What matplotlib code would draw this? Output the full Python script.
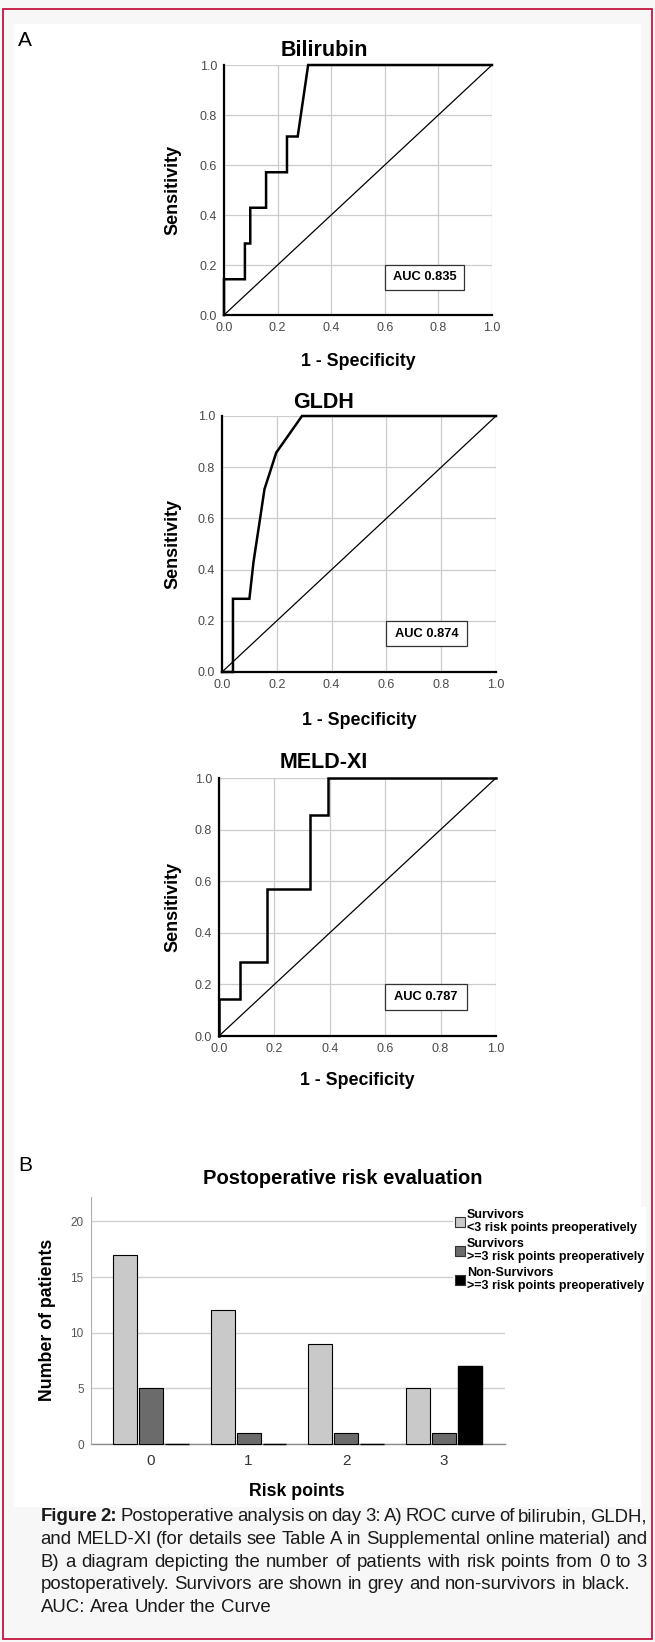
import matplotlib
matplotlib.use("Agg")
import matplotlib.pyplot as plt
from matplotlib.patches import Rectangle

plt.rcParams['font.family'] = ['Liberation Sans', 'DejaVu Sans']

W, H = 655, 1642

# ROC curves (1 - specificity, sensitivity)
bili_fpr = [0, 0, 0.078, 0.078, 0.098, 0.098, 0.157, 0.157, 0.235, 0.235, 0.275, 0.314, 1.0]
bili_tpr = [0, 0.143, 0.143, 0.286, 0.286, 0.429, 0.429, 0.571, 0.571, 0.714, 0.714, 1.0, 1.0]
gldh_fpr = [0, 0.04, 0.04, 0.10, 0.115, 0.135, 0.155, 0.198, 0.292, 1.0]
gldh_tpr = [0, 0, 0.286, 0.286, 0.43, 0.571, 0.714, 0.857, 1.0, 1.0]
meld_fpr = [0, 0, 0.077, 0.077, 0.175, 0.175, 0.33, 0.33, 0.394, 0.394, 1.0]
meld_tpr = [0, 0.143, 0.143, 0.286, 0.286, 0.571, 0.571, 0.857, 0.857, 1.0, 1.0]
auc_labels = ["AUC 0.835", "AUC 0.874", "AUC 0.787"]
roc_titles = ["Bilirubin", "GLDH", "MELD-XI"]

# risk evaluation bars
risk_points = ["0", "1", "2", "3"]
surv_lt3 = [17, 12, 9, 5]
surv_ge3 = [5, 1, 1, 1]
nonsurv_ge3 = [0, 0, 0, 7]
legend_labels = ["Survivors\n<3 risk points preoperatively",
                 "Survivors\n>=3 risk points preoperatively",
                 "Non-Survivors\n>=3 risk points preoperatively"]

caption_lines = [
    ("Figure 2: Postoperative analysis on day 3: A) ROC curve of bilirubin, GLDH,", True),
    ("and MELD-XI (for details see Table A in Supplemental online material) and", True),
    ("B) a diagram depicting the number of patients with risk points from 0 to 3", True),
    ("postoperatively. Survivors are shown in grey and non-survivors in black.", False),
    ("AUC: Area Under the Curve", False),
]


def rect(x0, y0, x1, y1):
    return [x0 / W, 1 - y1 / H, (x1 - x0) / W, (y1 - y0) / H]


def ftext(x, y, s, **kw):
    return fig.text(x / W, 1 - y / H, s, **kw)


fig = plt.figure(figsize=(W / 100, H / 100), dpi=100)
fig.patch.set_facecolor('#f8f7f7')
fig.patches.append(Rectangle((14 / W, 1 - 1507 / H), 627 / W, 1483 / H,
                             transform=fig.transFigure, facecolor='white',
                             edgecolor='none', zorder=-10))
fig.patches.append(Rectangle((2.5 / W, 1 - 1639 / H), 649.5 / W, 1630 / H,
                             transform=fig.transFigure, facecolor='none',
                             edgecolor='#c2163f', lw=1.3, zorder=5))

ftext(25, 40, "A", fontsize=15, ha='center', va='center')
ftext(25, 1165, "B", fontsize=15, ha='center', va='center')

# ---- panel A: ROC curves ----
roc_boxes = [(224, 65, 492, 315), (222, 416, 496, 672), (219, 778, 496, 1036)]
title_y = [51, 403, 762]
xlab_y = [361, 720, 1080]
curves = [(bili_fpr, bili_tpr), (gldh_fpr, gldh_tpr), (meld_fpr, meld_tpr)]

for i in range(3):
    x0, y0, x1, y1 = roc_boxes[i]
    ax = fig.add_axes(rect(x0, y0, x1, y1))
    ax.set_facecolor('none')
    ax.set_xlim(0, 1)
    ax.set_ylim(0, 1)
    ticks = [0, 0.2, 0.4, 0.6, 0.8, 1.0]
    ax.set_xticks(ticks)
    ax.set_yticks(ticks)
    ax.set_xticklabels(["%.1f" % t for t in ticks])
    ax.set_yticklabels(["%.1f" % t for t in ticks])
    ax.grid(True, color='#cccccc', lw=0.9)
    ax.set_axisbelow(True)
    ax.tick_params(length=0, labelsize=9, labelcolor='#4a4a4a', pad=5)
    for s in ['top', 'right']:
        ax.spines[s].set_visible(False)
    for s in ['left', 'bottom']:
        ax.spines[s].set_linewidth(1.6)
        ax.spines[s].set_color('black')
    ax.plot([0, 1], [0, 1], color='black', lw=0.9, clip_on=False)
    fpr, tpr = curves[i]
    ax.plot(fpr, tpr, color='black', lw=1.8, clip_on=False, solid_joinstyle='miter')
    ax.add_patch(Rectangle((0.6, 0.1), 0.295, 0.1, facecolor='white',
                           edgecolor='#333333', lw=0.9, zorder=4))
    ax.text(0.7475, 0.15, auc_labels[i], fontsize=9.3, fontweight='bold',
            ha='center', va='center', zorder=5)
    ftext(324, title_y[i], roc_titles[i], fontsize=15.5, fontweight='bold',
          ha='center', va='center')
    ftext((x0 + x1) / 2, xlab_y[i], "1 - Specificity", fontsize=12.8,
          fontweight='bold', ha='center', va='center')
    ftext(173, (y0 + y1) / 2, "Sensitivity", fontsize=13, fontweight='bold',
          ha='center', va='center', rotation=90)

# ---- panel B: bar chart ----
axb = fig.add_axes(rect(90.6, 1197, 505, 1444))
axb.set_facecolor('none')
xs = list(range(len(risk_points)))
off = 0.266
bw = 0.246
axb.bar([x - off for x in xs], surv_lt3, bw, color='#c9c9c9', edgecolor='black',
        lw=0.8, zorder=3, clip_on=False)
axb.bar(xs, surv_ge3, bw, color='#6b6b6b', edgecolor='black', lw=0.8, zorder=3,
        clip_on=False)
axb.bar([x + off for x in xs], nonsurv_ge3, bw, color='black', edgecolor='black',
        lw=1.0, zorder=3, clip_on=False)
axb.set_xlim(-0.62, 3.63)
axb.set_ylim(0, 22.2)
axb.set_yticks([0, 5, 10, 15, 20])
axb.set_xticks(xs)
axb.set_xticklabels(risk_points)
axb.yaxis.grid(True, color='#cfcfcf', lw=1.0)
axb.set_axisbelow(True)
axb.tick_params(axis='y', length=0, labelsize=8.5, labelcolor='#555555', pad=5)
axb.tick_params(axis='x', length=0, labelsize=11, labelcolor='#333333', pad=7)
for s in ['top', 'right']:
    axb.spines[s].set_visible(False)
axb.spines['left'].set_color('#b0b0b0')
axb.spines['bottom'].set_color('#8a8a8a')
axb.spines['bottom'].set_linewidth(1.0)
axb.spines['bottom'].set_zorder(1)

handles = [Rectangle((0, 0), 1, 1, facecolor=c, edgecolor='#333333', lw=0.8)
           for c in ['#c9c9c9', '#6b6b6b', 'black']]
leg = fig.legend(handles, legend_labels, loc='upper left',
                 bbox_to_anchor=(447 / W, 1 - 1201 / H), frameon=True,
                 facecolor='white', edgecolor='none', framealpha=1,
                 fancybox=False, borderpad=0.15, handlelength=0.8,
                 handleheight=0.9, handletextpad=0.15, labelspacing=0.33,
                 prop={'size': 9, 'weight': 'bold'})
for t in leg.get_texts():
    t.set_linespacing(1.1)

ftext(342.5, 1179, "Postoperative risk evaluation", fontsize=14.5,
      fontweight='bold', ha='center', va='center')
ftext(48, 1320, "Number of patients", fontsize=12.8, fontweight='bold',
      ha='center', va='center', rotation=90)
ftext(297, 1492, "Risk points", fontsize=12.8, fontweight='bold',
      ha='center', va='center')

# ---- caption, justified like the journal layout ----
renderer = fig.canvas.get_renderer()
cap_size = 13.4
left, right = 40.5, 647
base_y = [1521, 1544, 1567, 1589, 1612]


def width_of(s, weight):
    t = fig.text(0, 0, s, fontsize=cap_size, fontweight=weight)
    w = t.get_window_extent(renderer).width
    t.remove()
    return w


space_w = width_of("a a", 'normal') - width_of("aa", 'normal')
for (line, just), yb in zip(caption_lines, base_y):
    words = line.split(" ")
    weights = ['normal'] * len(words)
    if line.startswith("Figure 2:"):
        weights[0] = 'bold'
        weights[1] = 'bold'
    widths = [width_of(w, wt) for w, wt in zip(words, weights)]
    if just:
        gap = (right - left - sum(widths)) / (len(words) - 1)
    else:
        gap = space_w
    x = left
    for w, wt, wd in zip(words, weights, widths):
        ftext(x, yb, w, fontsize=cap_size, fontweight=wt, ha='left',
              va='baseline', color='#1a1a1a')
        x += wd + gap

fig.savefig("out.png", dpi=100, facecolor=fig.get_facecolor())
